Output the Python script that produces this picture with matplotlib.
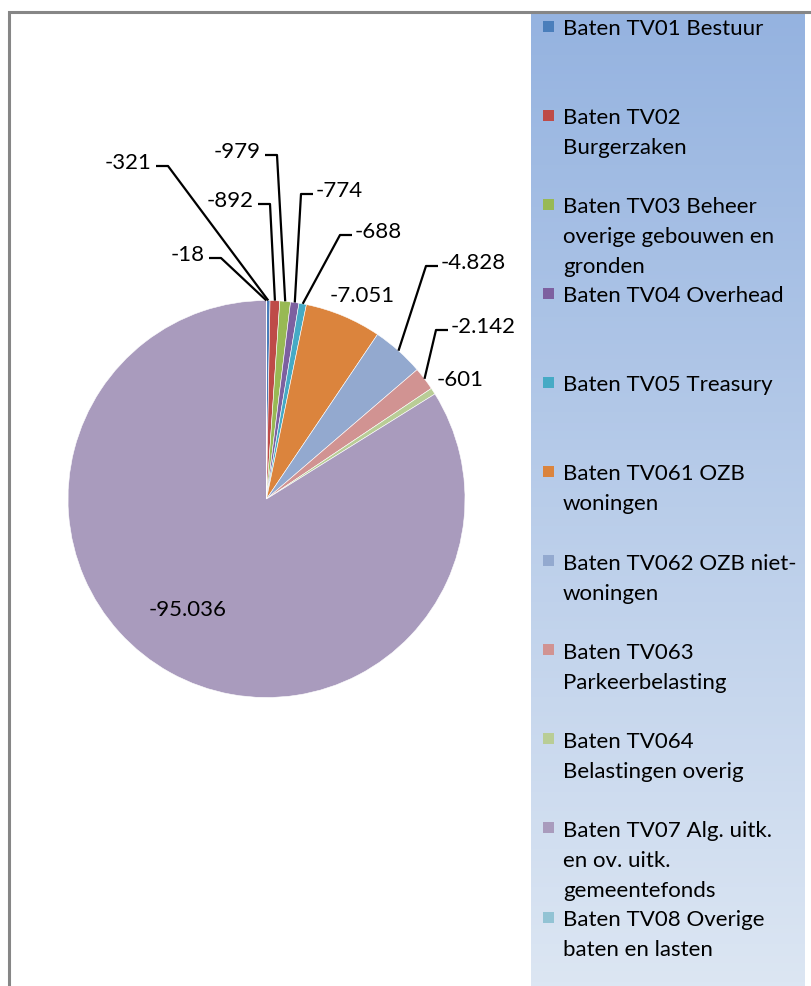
import numpy as np
import matplotlib.pyplot as plt
from matplotlib.patches import Rectangle
from matplotlib.colors import LinearSegmentedColormap

plt.rcParams['font.family'] = ['Lato', 'DejaVu Sans']

# data (Excel pie, clockwise from 12 o'clock)
categories = [
    "Baten TV01 Bestuur",
    "Baten TV02\nBurgerzaken",
    "Baten TV03 Beheer\noverige gebouwen en\ngronden",
    "Baten TV04 Overhead",
    "Baten TV05 Treasury",
    "Baten TV061 OZB\nwoningen",
    "Baten TV062 OZB niet-\nwoningen",
    "Baten TV063\nParkeerbelasting",
    "Baten TV064\nBelastingen overig",
    "Baten TV07 Alg. uitk.\nen ov. uitk.\ngemeentefonds",
    "Baten TV08 Overige\nbaten en lasten",
]
values = [-321, -892, -979, -774, -688, -7051, -4828, -2142, -601, -95036, -18]
colors = ['#4A7EBB', '#BE4B48', '#98B954', '#7D60A0', '#46AAC5', '#DB843D',
          '#93A9CF', '#D19392', '#B9CD96', '#A99BBD', '#92C3D4']

# label layout: (x, y from top, ha, leader line?)
label_layout = [
    (152, 163, 'right', True),
    (254, 201, 'right', True),
    (261, 152, 'right', True),
    (316, 191, 'left', True),
    (355, 232, 'left', True),
    (362, 296, 'center', False),
    (441, 263, 'left', True),
    (451, 327, 'left', True),
    (437, 380, 'left', False),
    (188, 610, 'center', False),
    (205, 255, 'right', True),
]

W, H = 811, 987
fig = plt.figure(figsize=(W / 100, H / 100), dpi=100)
ax = fig.add_axes([0, 0, 1, 1])

cx, cy, r = 266.5, H - 500, 198.5
wedges, _ = ax.pie(np.abs(values), colors=colors, startangle=90, counterclock=False,
                   center=(cx, cy), radius=r,
                   wedgeprops=dict(edgecolor='white', linewidth=0.4))
ax.set_aspect('equal')
ax.axis('off')


def fmt(v):
    return f"{v:,}".replace(",", ".")


fs = 16
for w, v, (tx, ty, ha, line) in zip(wedges, values, label_layout):
    ty = H - ty
    ax.text(tx, ty, fmt(v), ha=ha, va='center', fontsize=fs, color='black')
    if line:
        a = np.deg2rad((w.theta1 + w.theta2) / 2)
        px, py = cx + r * np.cos(a), cy + r * np.sin(a)
        ly = ty - 4
        if ha == 'right':
            xs = [tx + 4, tx + 16, px]
        else:
            xs = [tx - 3, tx - 15, px]
        ax.plot(xs, [ly, ly, py], color='black', lw=1.6, solid_capstyle='butt')

# legend panel with gradient
grad = LinearSegmentedColormap.from_list('g', ['#DCE6F3', '#95B3E0'])
ax.imshow(np.linspace(0, 1, 256).reshape(-1, 1), cmap=grad, aspect='auto',
          extent=(531, 805, 0, H - 14), origin='lower', zorder=0)
ax.set_xlim(0, W)
ax.set_ylim(0, H)

for i, (cat, col) in enumerate(zip(categories, colors)):
    y0 = 27 + i * 89.1
    ax.add_patch(Rectangle((543, H - y0 - 5.5), 11, 11, facecolor=col, edgecolor='none', zorder=2))
    for k, line in enumerate(cat.split("\n")):
        ax.text(563, H - (y0 + 2 + 30 * k), line, ha='left', va='center', fontsize=fs,
                color='black', zorder=3)

# chart border
ax.plot([8.5, 8.5, W], [0, H - 13, H - 13], color='#868686', lw=2.2, zorder=4,
        solid_joinstyle='miter')

fig.savefig('out.png', dpi=100)
